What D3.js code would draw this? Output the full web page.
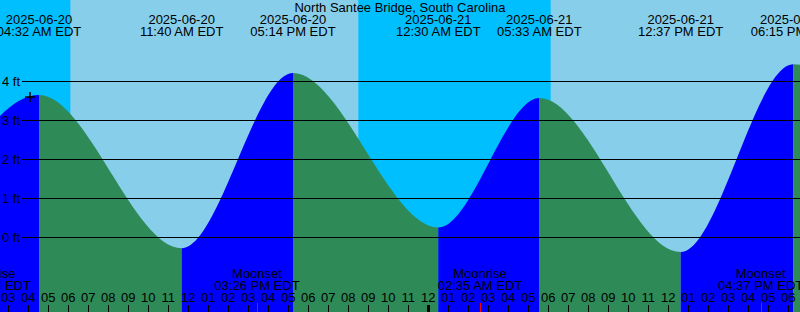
<!DOCTYPE html>
<html>
<head>
<meta charset="utf-8">
<script src="https://cdn.jsdelivr.net/npm/d3@7"></script>
<style>
  body { margin: 0; }
  svg { display: block; font-family: "Liberation Sans", Arial, sans-serif; }
</style>
</head>
<body>
<div id="chart"></div>
<script>
// tide extremes (EDT wall time), first and last are just off the chart
var tideTimes = ["2025-06-19 22:50", "2025-06-20 04:32", "2025-06-20 11:40", "2025-06-20 17:14",
                 "2025-06-21 00:30", "2025-06-21 05:33", "2025-06-21 12:37", "2025-06-21 18:15",
                 "2025-06-22 01:15"];
var tideHeights = [0.2, 3.65, -0.28, 4.21, 0.25, 3.57, -0.38, 4.44, -0.1];

// night = from sunset to sunrise
var nightStarts = ["2025-06-19 20:30", "2025-06-20 20:30"];
var nightEnds = ["2025-06-20 06:06", "2025-06-21 06:07"];

var moonTimes = ["2025-06-20 02:01", "2025-06-20 15:26", "2025-06-21 02:35", "2025-06-21 16:37"];
var moonNames = ["Moonrise", "Moonset", "Moonrise", "Moonset"];

var feetTicks = [0, 1, 2, 3, 4];

var nowTime = "2025-06-20 04:05";
var nowHeight = 3.6;

var title = "North Santee Bridge, South Carolina";

var width = 800, height = 312;
var parse = d3.utcParse("%Y-%m-%d %H:%M");
var start = parse("2025-06-20 02:35");
var end = d3.utcHour.offset(start, 40);

var x = d3.scaleUtc().domain([start, end]).range([0, width]);
var y = d3.scaleLinear().domain([0, 4]).range([237.3, 81.3]);

var tides = tideTimes.map(function(t, i) {
    return { t: parse(t), h: tideHeights[i] };
});

var svg = d3.select("#chart").append("svg")
    .attr("width", width)
    .attr("height", height);

// day / night background
svg.append("rect")
    .attr("width", width).attr("height", height)
    .attr("fill", "#87CEEB");

svg.selectAll(".night")
    .data(nightStarts)
    .enter().append("rect")
    .attr("x", function(d) { return Math.max(0, x(parse(d))); })
    .attr("width", function(d, i) { return x(parse(nightEnds[i])) - Math.max(0, x(parse(d))); })
    .attr("y", 0).attr("height", height)
    .attr("fill", "#00BFFF");

// tide area, blue while rising, green while falling
var area = d3.area()
    .x(function(d) { return x(d.t); })
    .y0(height)
    .y1(function(d) { return y(d.h); })
    .curve(d3.curveMonotoneX);

var defs = svg.append("defs");
for (var i = 0; i < tides.length - 1; i++) {
    defs.append("clipPath").attr("id", "seg" + i)
        .append("rect")
        .attr("x", x(tides[i].t))
        .attr("width", x(tides[i + 1].t) - x(tides[i].t))
        .attr("y", 0).attr("height", height);
    svg.append("path")
        .datum(tides)
        .attr("d", area)
        .attr("clip-path", "url(#seg" + i + ")")
        .attr("fill", tides[i + 1].h > tides[i].h ? "#0000FF" : "#2E8B57");
}

// feet grid
svg.selectAll(".grid")
    .data(feetTicks)
    .enter().append("line")
    .attr("x1", 22).attr("x2", width)
    .attr("y1", function(d) { return Math.round(y(d)) + 0.5; })
    .attr("y2", function(d) { return Math.round(y(d)) + 0.5; })
    .attr("stroke", "black");

svg.selectAll(".ftlabel")
    .data(feetTicks)
    .enter().append("text")
    .attr("x", 20)
    .attr("y", function(d) { return y(d) + 4.5; })
    .attr("text-anchor", "end")
    .style("font-size", "13px")
    .text(function(d) { return d + " ft"; });

// current time marker
svg.append("path")
    .attr("d", "M" + (x(parse(nowTime)) - 5) + "," + y(nowHeight) + "h10M" + x(parse(nowTime)) + "," + (y(nowHeight) - 5) + "v10")
    .attr("stroke", "black")
    .attr("stroke-width", 1.5);

// title
svg.append("text")
    .attr("x", width / 2).attr("y", 11.5)
    .attr("text-anchor", "middle")
    .style("font-size", "13px")
    .text(title);

// high / low labels
var fmtDate = d3.utcFormat("%Y-%m-%d");
var fmtTime = d3.utcFormat("%I:%M %p EDT");
var shown = tides.filter(function(d) { return d.t >= start && d.t <= end; });

var lab = svg.selectAll(".tidelabel")
    .data(shown)
    .enter().append("text")
    .attr("text-anchor", "middle")
    .style("font-size", "13px");
lab.append("tspan")
    .attr("x", function(d) { return x(d.t); })
    .attr("y", 24)
    .text(function(d) { return fmtDate(d.t); });
lab.append("tspan")
    .attr("x", function(d) { return x(d.t); })
    .attr("y", 36)
    .text(function(d) { return fmtTime(d.t); });

// hour axis
var hours = d3.utcHour.range(d3.utcHour.ceil(start), end);
svg.selectAll(".htick")
    .data(hours)
    .enter().append("line")
    .attr("x1", function(d) { return Math.round(x(d)) + 0.5; })
    .attr("x2", function(d) { return Math.round(x(d)) + 0.5; })
    .attr("y1", 305).attr("y2", height)
    .attr("stroke", "black")
    .attr("stroke-width", function(d) { return d.getUTCHours() === 0 ? 3 : 1; });

svg.selectAll(".hlabel")
    .data(hours)
    .enter().append("text")
    .attr("x", function(d) { return x(d); })
    .attr("y", 302)
    .attr("text-anchor", "middle")
    .style("font-size", "13px")
    .text(d3.utcFormat("%I"));

// moon rise / set
var moons = moonTimes.map(function(t, i) { return { t: parse(t), name: moonNames[i] }; });

svg.selectAll(".mtick")
    .data(moons)
    .enter().append("line")
    .attr("x1", function(d) { return Math.round(x(d.t)) + 0.5; })
    .attr("x2", function(d) { return Math.round(x(d.t)) + 0.5; })
    .attr("y1", 303).attr("y2", height)
    .attr("stroke", "red");

var ml = svg.selectAll(".mlabel")
    .data(moons)
    .enter().append("text")
    .attr("text-anchor", "middle")
    .style("font-size", "13px");
ml.append("tspan")
    .attr("x", function(d) { return x(d.t); })
    .attr("y", 278)
    .text(function(d) { return d.name; });
ml.append("tspan")
    .attr("x", function(d) { return x(d.t); })
    .attr("y", 290)
    .text(function(d) { return fmtTime(d.t); });
</script>
</body>
</html>
